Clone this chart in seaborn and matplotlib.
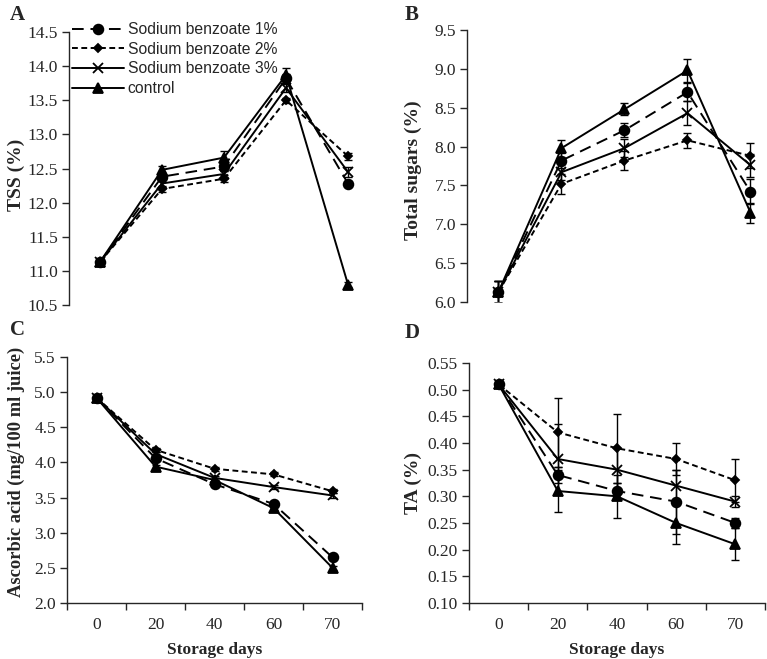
import matplotlib
matplotlib.use("Agg")
import matplotlib.pyplot as plt
import numpy as np
import pandas as pd
import seaborn as sns
from matplotlib.ticker import FormatStrFormatter, MultipleLocator

days = ["0", "20", "40", "60", "70"]
series = ["Sodium benzoate 1%", "Sodium benzoate 2%", "Sodium benzoate 3%", "control"]

tss_mean = {
    "Sodium benzoate 1%": [11.13, 12.38, 12.53, 13.82, 12.28],
    "Sodium benzoate 2%": [11.13, 12.20, 12.35, 13.50, 12.68],
    "Sodium benzoate 3%": [11.13, 12.28, 12.42, 13.68, 12.45],
    "control": [11.13, 12.48, 12.66, 13.87, 10.80],
}
tss_err = {
    "Sodium benzoate 1%": [0.04, 0.05, 0.06, 0.06, 0.03],
    "Sodium benzoate 2%": [0.04, 0.05, 0.05, 0.04, 0.05],
    "Sodium benzoate 3%": [0.04, 0.05, 0.05, 0.06, 0.07],
    "control": [0.04, 0.05, 0.09, 0.10, 0.03],
}

sugar_mean = {
    "Sodium benzoate 1%": [6.13, 7.82, 8.21, 8.70, 7.42],
    "Sodium benzoate 2%": [6.13, 7.52, 7.82, 8.08, 7.88],
    "Sodium benzoate 3%": [6.13, 7.67, 7.98, 8.43, 7.76],
    "control": [6.13, 7.98, 8.48, 8.98, 7.15],
}
sugar_err = {
    "Sodium benzoate 1%": [0.14, 0.10, 0.09, 0.12, 0.16],
    "Sodium benzoate 2%": [0.14, 0.13, 0.12, 0.10, 0.16],
    "Sodium benzoate 3%": [0.14, 0.10, 0.12, 0.15, 0.15],
    "control": [0.14, 0.11, 0.08, 0.15, 0.13],
}

ascorbic_mean = {
    "Sodium benzoate 1%": [4.92, 4.06, 3.69, 3.41, 2.65],
    "Sodium benzoate 2%": [4.92, 4.18, 3.91, 3.83, 3.59],
    "Sodium benzoate 3%": [4.92, 4.12, 3.78, 3.65, 3.53],
    "control": [4.92, 3.94, 3.75, 3.35, 2.50],
}
ascorbic_err = {
    "Sodium benzoate 1%": [0.03, 0.03, 0.03, 0.03, 0.03],
    "Sodium benzoate 2%": [0.03, 0.03, 0.03, 0.03, 0.03],
    "Sodium benzoate 3%": [0.03, 0.03, 0.03, 0.03, 0.03],
    "control": [0.03, 0.03, 0.03, 0.03, 0.03],
}

ta_mean = {
    "Sodium benzoate 1%": [0.51, 0.34, 0.31, 0.29, 0.25],
    "Sodium benzoate 2%": [0.51, 0.42, 0.39, 0.37, 0.33],
    "Sodium benzoate 3%": [0.51, 0.37, 0.35, 0.32, 0.29],
    "control": [0.51, 0.31, 0.30, 0.25, 0.21],
}
ta_err = {
    "Sodium benzoate 1%": [0.005, 0.015, 0.015, 0.06, 0.01],
    "Sodium benzoate 2%": [0.005, 0.065, 0.065, 0.03, 0.04],
    "Sodium benzoate 3%": [0.005, 0.065, 0.04, 0.03, 0.01],
    "control": [0.005, 0.04, 0.04, 0.04, 0.03],
}

markers = {
    "Sodium benzoate 1%": "o",
    "Sodium benzoate 2%": "D",
    "Sodium benzoate 3%": "x",
    "control": "^",
}
linestyles = {
    "Sodium benzoate 1%": (0, (6, 3.5)),
    "Sodium benzoate 2%": (0, (3, 1.8)),
    "Sodium benzoate 3%": "-",
    "control": "-",
}
marker_sizes = {
    "Sodium benzoate 1%": 7,
    "Sodium benzoate 2%": 4.5,
    "Sodium benzoate 3%": 7,
    "control": 6.5,
}

sns.set_style("ticks")
plt.rcParams["font.family"] = ["Liberation Serif", "DejaVu Serif"]
plt.rcParams["axes.linewidth"] = 1.0
plt.rcParams["xtick.major.width"] = 1.0
plt.rcParams["ytick.major.width"] = 1.0

TICK_SIZE = 12.5
LABEL_SIZE = 14


def long_table(mean, err):
    rows = []
    for name in series:
        for i, day in enumerate(days):
            rows.append({"pos": i, "day": day, "series": name,
                         "value": mean[name][i], "err": err[name][i]})
    return pd.DataFrame(rows)


def draw_panel(ax, mean, err, ylim, step, fmt, ylabel, show_x, label_size=LABEL_SIZE):
    df = long_table(mean, err)
    for name in series:
        sub = df[df["series"] == name]
        sns.lineplot(data=sub, x="pos", y="value", color="black",
                     marker=markers[name], markersize=marker_sizes[name],
                     markeredgecolor="black", markeredgewidth=1.3,
                     linestyle=linestyles[name], linewidth=1.4,
                     label=name, ax=ax, zorder=3)
        ax.errorbar(sub["pos"], sub["value"], yerr=sub["err"], fmt="none",
                    ecolor="black", elinewidth=1.0, capsize=3, capthick=1.0,
                    zorder=2)
    ax.set_xlim(-0.5, len(days) - 0.5)
    ax.set_ylim(*ylim)
    ax.yaxis.set_major_locator(MultipleLocator(step))
    ax.yaxis.set_major_formatter(FormatStrFormatter(fmt))
    ax.tick_params(axis="y", direction="out", length=5, labelsize=TICK_SIZE, pad=3)
    ax.set_ylabel(ylabel, fontsize=label_size, fontweight="bold")
    ax.set_xlabel("")
    if show_x:
        ax.set_xticks(np.arange(len(days) + 1) - 0.5)
        ax.set_xticklabels([])
        ax.set_xticks(np.arange(len(days)), minor=True)
        ax.set_xticklabels(days, minor=True)
        ax.tick_params(axis="x", which="major", direction="out", length=5)
        ax.tick_params(axis="x", which="minor", length=0, labelsize=TICK_SIZE, pad=10)
        ax.set_xlabel("Storage days", fontsize=12.5, fontweight="bold")
        sns.despine(ax=ax)
    else:
        ax.set_xticks([])
        sns.despine(ax=ax, bottom=True)


W, H = 767, 659
fig = plt.figure(figsize=(W / 100, H / 100), dpi=100)


def px_axes(left, right, top, bottom):
    return fig.add_axes([left / W, 1 - bottom / H, (right - left) / W, (bottom - top) / H])


ax_a = px_axes(69, 379, 32, 305)
ax_b = px_axes(467, 782, 30, 302)
ax_c = px_axes(67, 362, 357, 603)
ax_d = px_axes(469, 765, 363, 603)

draw_panel(ax_a, tss_mean, tss_err, (10.5, 14.5), 0.5, "%.1f", "TSS (%)", False)
draw_panel(ax_b, sugar_mean, sugar_err, (6.0, 9.5), 0.5, "%.1f", "Total sugars (%)", False)
draw_panel(ax_c, ascorbic_mean, ascorbic_err, (2.0, 5.5), 0.5, "%.1f",
           "Ascorbic acid (mg/100 ml juice)", True, label_size=13.3)
draw_panel(ax_d, ta_mean, ta_err, (0.10, 0.55), 0.05, "%.2f", "TA (%)", True)

for ax in (ax_b, ax_c, ax_d):
    ax.get_legend().remove()

ax_a.yaxis.set_label_coords((25 - 69) / 310, (305 - 175) / 273)
ax_b.yaxis.set_label_coords((422 - 467) / 315, (302 - 170) / 272)
ax_c.yaxis.set_label_coords((25 - 67) / 295, (603 - 472) / 246)
ax_d.yaxis.set_label_coords((422 - 469) / 296, 0.5)
ax_c.xaxis.set_label_coords(0.5, (603 - 642) / 246)
ax_d.xaxis.set_label_coords(0.5, (603 - 642) / 240)

handles, labels = ax_a.get_legend_handles_labels()
leg = ax_a.legend(handles[:4], labels[:4], loc="upper left",
                  bbox_to_anchor=(72 / W, 1 - 22 / H),
                  bbox_transform=fig.transFigure, frameon=False,
                  prop={"family": "Liberation Sans", "size": 11.3},
                  handlelength=3.3, handletextpad=0.25, labelspacing=0.3,
                  borderpad=0, borderaxespad=0)

for letter, x, y in [("A", 10, 15), ("B", 405, 15), ("C", 10, 330), ("D", 405, 333)]:
    fig.text(x / W, 1 - y / H, letter, fontsize=15, fontweight="bold", va="center")

fig.savefig("out.png", dpi=100)
